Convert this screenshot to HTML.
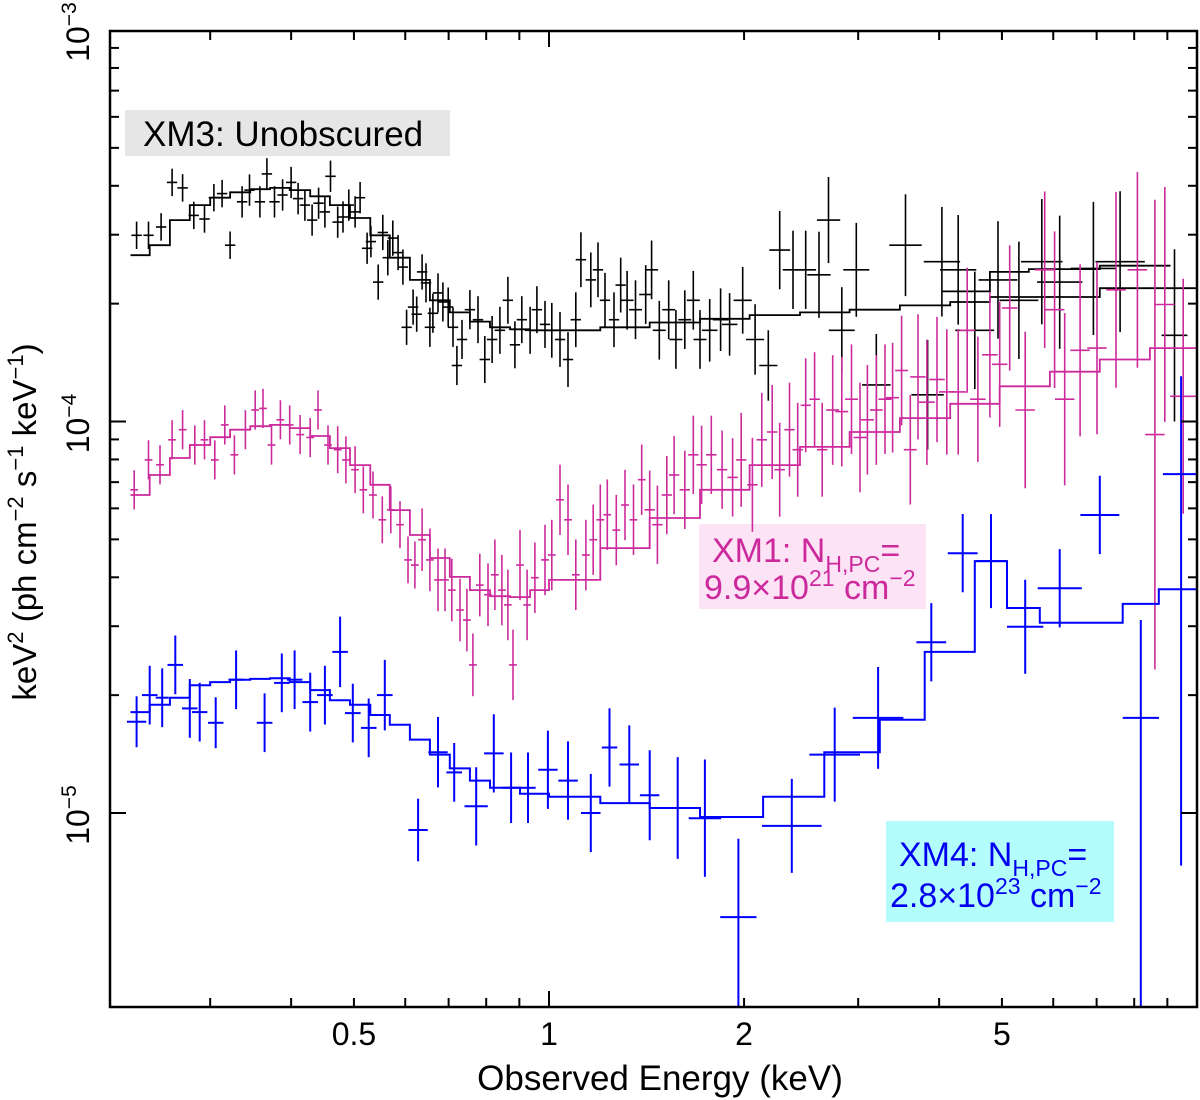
<!DOCTYPE html>
<html><head><meta charset="utf-8"><title>X-ray spectra</title>
<style>
html,body{margin:0;padding:0;background:#fff;}
svg{display:block;font-family:"Liberation Sans",Arial,sans-serif;}
</style></head>
<body>
<svg id="chart" width="1200" height="1100" viewBox="0 0 1200 1100" xmlns="http://www.w3.org/2000/svg">
<defs><clipPath id="plotclip"><rect x="110" y="31" width="1087" height="976"/></clipPath></defs>
<rect x="0" y="0" width="1200" height="1100" fill="#fff"/>
<g id="annot">
  <rect x="125" y="110" width="325" height="46" fill="#e6e6e6"/>
  <text x="143" y="146" font-size="35" fill="#000">XM3: Unobscured</text>
  <rect x="699" y="524" width="227" height="85" fill="#fde3f6"/>
  <text x="712" y="562" font-size="34" fill="#cc2a9c">XM1: N<tspan font-size="23" dy="10">H,PC</tspan><tspan dy="-10">=</tspan></text>
  <text x="704" y="599" font-size="34" fill="#cc2a9c">9.9×10<tspan font-size="23" dy="-13">21</tspan><tspan dy="13"> cm</tspan><tspan font-size="23" dy="-13">−2</tspan></text>
  <rect x="886" y="821" width="228" height="101" fill="#b3fdfd"/>
  <text x="899" y="866" font-size="34" fill="#0000ee">XM4: N<tspan font-size="23" dy="10">H,PC</tspan><tspan dy="-10">=</tspan></text>
  <text x="890" y="907" font-size="34" fill="#0000ee">2.8×10<tspan font-size="23" dy="-13">23</tspan><tspan dy="13"> cm</tspan><tspan font-size="23" dy="-13">−2</tspan></text>
</g>
<g id="series" clip-path="url(#plotclip)"></g>
<g id="axes"></g>
<text x="660" y="1090" font-size="35" text-anchor="middle">Observed Energy (keV)</text>
<text transform="translate(36,522) rotate(-90)" font-size="33" text-anchor="middle">keV<tspan font-size="22" dy="-13">2</tspan><tspan dy="13"> (ph cm</tspan><tspan font-size="22" dy="-13">−2</tspan><tspan dy="13"> s</tspan><tspan font-size="22" dy="-13">−1</tspan><tspan dy="13"> keV</tspan><tspan font-size="22" dy="-13">−1</tspan><tspan dy="13">)</tspan></text>
</svg>
<script>
// values in units of 1e-5 keV^2 (ph cm^-2 s^-1 keV^-1); errors in dex
const xTickLabels = ["0.5","1","2","5"];
const xTickValues = [0.5,1,2,5];
const xMinorTicks = [0.3,0.4,0.5,0.6,0.7,0.8,0.9,2,3,4,5,6,7,8,9];
const xMajorTicks = [1,10];
const yMajorExp = [-3,-4,-5];

const blackModelEdges = [0.226,0.242,0.260,0.279,0.300,0.322,0.346,0.371,0.398,0.428,0.459,0.493,0.530,0.568,0.610,0.655,0.703,0.755,0.811,0.871,0.935,1.00,1.20,1.43,1.71,2.04,2.44,2.91,3.48,4.16,4.79,7.08,10];
const blackModelVals = [26.6,28.2,32.7,35.7,37.3,38.5,39.2,39.5,39.0,37.6,35.7,33.1,29.9,26.2,23.0,20.4,19.0,18.0,17.4,17.2,17.1,17.1,17.4,17.9,18.3,18.7,19.0,19.3,19.8,20.2,20.8,21.9];
const blackModel2Edges = [4.05,4.79,5.5,7.08,9.1];
const blackModel2Vals = [21.5,24.1,24.5,25.0];

const blackE = [0.231,0.241,0.252,0.262,0.272,0.283,0.294,0.304,0.313,0.322,
0.336,0.345,0.358,0.367,0.377,0.388,0.400,0.410,0.420,0.431,
0.441,0.451,0.460,0.472,0.481,0.491,0.502,0.511,0.524,0.531,
0.545,0.554,0.564,0.574,0.585,0.595,0.603,0.617,0.625,0.637,
0.646,0.655,0.662,0.674,0.686,0.699,0.711,0.721,0.734,0.755,
0.777,0.796,0.817,0.840,0.864,0.886,0.908,0.935,0.958,0.986,
1.01,1.04,1.07,1.10,1.12,1.16,1.19,1.22,1.26,1.29,
1.32,1.36,1.41,1.44,1.48,1.53,1.57,1.62,1.67,1.71,
1.77,1.84,1.90,1.99,2.08,2.18,2.27,2.38,2.49,2.61,
2.70,2.83,2.98,3.20,3.55,3.84,4.04,4.28,4.54,4.93,
5.31,5.76,6.14,6.92,7.61,9.23];
const blackV = [29.9,29.9,31.4,40.8,39.5,33.6,32.9,37.3,38.2,28.2,
36.4,39.0,36.4,42.9,36.4,37.9,40.8,37.1,35.7,32.7,
36.1,34.3,42.3,32.3,33.3,35.7,34.3,37.3,27.7,28.8,
22.7,30.4,26.2,29.4,27.0,24.8,17.4,19.6,18.8,24.1,
22.6,17.4,18.9,21.3,20.2,19.6,17.4,13.9,16.2,19.3,
18.2,14.4,16.2,17.1,20.4,15.7,18.2,17.1,19.3,17.7,
17.1,16.2,14.4,18.2,25.9,23.0,24.4,20.4,18.2,22.3,
20.4,19.3,21.1,24.4,17.1,19.3,16.2,18.2,20.4,16.2,
17.1,18.2,17.7,20.4,16.2,13.9,27.4,24.4,24.4,23.7,
32.7,17.1,24.4,12.4,28.2,11.7,25.6,24.4,17.1,23.0,
20.4,25.6,22.7,24.6,25.6,16.6];
const blackXErr = [0.008,0.008,0.008,0.008,0.008,0.008,0.008,0.008,0.008,0.008,
0.008,0.008,0.008,0.008,0.008,0.008,0.008,0.008,0.008,0.008,
0.008,0.008,0.008,0.008,0.008,0.008,0.008,0.008,0.008,0.008,
0.008,0.008,0.008,0.008,0.008,0.008,0.008,0.008,0.008,0.008,
0.008,0.008,0.008,0.008,0.008,0.008,0.008,0.008,0.008,0.008,
0.008,0.008,0.008,0.008,0.008,0.008,0.008,0.008,0.008,0.008,
0.008,0.008,0.008,0.008,0.008,0.008,0.008,0.008,0.008,0.008,
0.01,0.01,0.01,0.01,0.01,0.01,0.01,0.01,0.01,0.01,
0.012,0.012,0.012,0.014,0.014,0.014,0.016,0.016,0.016,0.018,
0.018,0.02,0.02,0.022,0.025,0.025,0.028,0.028,0.03,0.03,
0.03,0.032,0.035,0.035,0.038,0.02];
const blackYErr = [0.035,0.035,0.035,0.035,0.035,0.035,0.035,0.035,0.035,0.035,
0.04,0.04,0.04,0.04,0.04,0.04,0.04,0.04,0.04,0.04,
0.04,0.04,0.04,0.04,0.04,0.04,0.04,0.04,0.04,0.04,
0.045,0.045,0.045,0.045,0.045,0.045,0.045,0.045,0.045,0.045,
0.05,0.05,0.05,0.05,0.05,0.05,0.05,0.05,0.05,0.05,
0.06,0.06,0.06,0.06,0.06,0.06,0.06,0.06,0.06,0.06,
0.07,0.07,0.07,0.07,0.07,0.07,0.07,0.07,0.07,0.07,
0.075,0.075,0.075,0.075,0.075,0.075,0.075,0.075,0.075,0.075,
0.08,0.08,0.08,0.085,0.09,0.09,0.1,0.1,0.1,0.11,
0.11,0.11,0.12,0.13,0.13,0.14,0.14,0.14,0.15,0.15,
0.15,0.16,0.17,0.17,0.18,0.22];

const magModelEdges = [0.226,0.242,0.260,0.279,0.300,0.322,0.346,0.371,0.398,0.428,0.459,0.493,0.530,0.568,0.610,0.655,0.703,0.755,0.811,0.871,0.935,1.00,1.20,1.43,1.71,2.04,2.44,2.91,3.48,4.16,4.96,5.93,7.08,8.46,10];
const magModelVals = [6.49,7.30,8.07,8.71,9.12,9.53,9.73,9.80,9.62,9.18,8.55,7.74,6.89,5.94,5.13,4.48,4.01,3.71,3.58,3.56,3.71,3.94,4.75,5.67,6.69,7.74,8.61,9.40,10.2,11.1,12.3,13.4,14.4,15.4];

const magE = [0.229,0.241,0.251,0.262,0.272,0.284,0.294,0.305,0.316,0.327,
0.340,0.352,0.362,0.373,0.385,0.398,0.413,0.428,0.440,0.456,
0.472,0.486,0.502,0.517,0.535,0.553,0.570,0.589,0.606,0.621,
0.637,0.655,0.674,0.691,0.708,0.729,0.747,0.763,0.782,0.805,
0.825,0.846,0.864,0.880,0.902,0.925,0.951,0.986,1.01,1.04,
1.07,1.10,1.14,1.17,1.20,1.23,1.27,1.31,1.35,1.39,
1.43,1.47,1.52,1.56,1.62,1.67,1.72,1.78,1.85,1.92,
1.98,2.06,2.13,2.21,2.27,2.35,2.42,2.49,2.57,2.64,
2.74,2.83,2.93,3.02,3.10,3.20,3.30,3.39,3.50,3.61,
3.71,3.83,3.97,4.11,4.28,4.42,4.59,4.79,4.96,5.14,
5.43,5.82,6.03,6.25,6.60,7.01,7.50,8.09,8.61,8.92,
9.52];
const magV = [6.69,7.98,7.75,8.98,9.53,8.71,8.98,7.98,9.80,8.22,
9.53,10.7,10.8,8.71,10.1,9.80,9.26,9.10,10.7,8.71,
8.47,7.98,7.53,6.69,6.49,5.61,5.95,5.45,4.43,4.30,
4.99,4.43,3.94,3.94,3.71,3.30,3.11,2.39,3.82,3.61,
4.06,3.71,3.40,2.39,4.30,3.40,3.99,4.43,4.56,6.31,
5.61,4.06,4.56,4.99,5.61,5.78,5.28,6.12,5.61,7.10,
5.95,5.45,6.49,7.30,6.69,8.22,7.75,8.22,7.53,7.20,
7.98,6.89,8.98,9.40,7.53,9.53,8.47,11.0,11.4,8.47,
10.7,10.6,11.4,9.10,10.1,10.7,11.4,11.5,13.5,8.47,
13.0,11.2,12.8,11.9,11.9,17.1,11.4,14.8,14.0,19.5,
10.7,24.4,19.3,11.4,15.2,15.4,21.7,24.4,9.26,19.9,
11.6];
const magXErr = [0.006,0.006,0.006,0.006,0.006,0.006,0.006,0.006,0.006,0.006,
0.006,0.006,0.006,0.006,0.006,0.006,0.006,0.006,0.006,0.006,
0.006,0.006,0.006,0.006,0.006,0.006,0.006,0.006,0.006,0.006,
0.006,0.006,0.006,0.006,0.006,0.006,0.006,0.006,0.006,0.006,
0.006,0.006,0.006,0.006,0.006,0.006,0.006,0.006,0.006,0.006,
0.006,0.006,0.006,0.006,0.006,0.006,0.006,0.006,0.006,0.006,
0.008,0.008,0.008,0.008,0.008,0.008,0.008,0.008,0.008,0.008,
0.008,0.008,0.008,0.008,0.008,0.008,0.008,0.008,0.008,0.008,
0.01,0.01,0.01,0.01,0.01,0.01,0.01,0.01,0.01,0.01,
0.012,0.012,0.012,0.012,0.012,0.012,0.012,0.012,0.012,0.012,
0.015,0.015,0.015,0.015,0.015,0.015,0.015,0.015,0.015,0.015,
0.02];
const magYErr = [0.05,0.05,0.05,0.05,0.05,0.05,0.05,0.05,0.05,0.05,
0.05,0.05,0.05,0.05,0.05,0.05,0.05,0.05,0.05,0.05,
0.06,0.06,0.06,0.06,0.06,0.06,0.06,0.06,0.06,0.06,
0.08,0.08,0.08,0.08,0.08,0.08,0.08,0.08,0.08,0.08,
0.09,0.09,0.09,0.09,0.09,0.09,0.09,0.09,0.09,0.09,
0.09,0.09,0.09,0.09,0.09,0.09,0.09,0.09,0.09,0.09,
0.1,0.1,0.1,0.1,0.1,0.1,0.1,0.1,0.1,0.1,
0.12,0.12,0.12,0.12,0.12,0.12,0.12,0.12,0.12,0.12,
0.14,0.14,0.14,0.14,0.14,0.14,0.14,0.14,0.14,0.14,
0.16,0.16,0.16,0.16,0.16,0.16,0.16,0.16,0.16,0.16,
0.2,0.2,0.2,0.22,0.22,0.22,0.25,0.25,0.6,0.3,
0.3];

const blueModelEdges = [0.226,0.242,0.260,0.279,0.300,0.322,0.346,0.371,0.398,0.428,0.459,0.493,0.530,0.568,0.610,0.655,0.703,0.755,0.811,0.902,1.00,1.20,1.43,1.71,2.14,2.66,3.24,3.80,4.54,5.09,5.72,7.68,8.73,10];
const blueModelVals = [1.81,1.89,1.97,2.12,2.16,2.19,2.20,2.21,2.16,2.06,1.94,1.89,1.78,1.68,1.54,1.41,1.30,1.21,1.16,1.12,1.10,1.06,1.03,0.977,1.10,1.43,1.73,2.58,4.40,3.34,3.06,3.42,3.73];

const blueE = [0.231,0.242,0.253,0.265,0.279,0.289,0.306,0.329,0.364,0.387,
0.405,0.428,0.451,0.476,0.498,0.527,0.558,0.628,0.674,0.714,
0.772,0.822,0.874,0.928,0.996,1.07,1.16,1.24,1.33,1.43,
1.58,1.74,1.96,2.37,2.76,3.22,3.89,4.35,4.81,5.43,
6.14,7.08,8.19,9.45];
const blueV = [1.71,2.00,1.97,2.39,1.85,1.81,1.70,2.19,1.70,2.15,
2.19,1.92,2.00,2.58,1.80,1.65,2.00,0.905,1.43,1.27,
1.04,1.42,1.16,1.16,1.29,1.21,1.00,1.47,1.33,1.11,
1.03,0.97,0.542,0.927,1.41,1.75,2.73,4.61,4.40,2.99,
3.75,5.77,1.75,7.34];
const blueXErr = [0.015,0.012,0.01,0.012,0.012,0.012,0.012,0.012,0.012,0.012,
0.012,0.012,0.012,0.012,0.012,0.012,0.012,0.015,0.015,0.012,
0.018,0.015,0.015,0.012,0.015,0.015,0.015,0.012,0.015,0.015,
0.02,0.025,0.028,0.046,0.039,0.039,0.023,0.023,0.023,0.028,
0.034,0.03,0.028,0.028];
const blueYErrUp = [0.065,0.075,0.075,0.075,0.075,0.075,0.065,0.075,0.075,0.075,
0.075,0.075,0.075,0.09,0.075,0.075,0.09,0.08,0.09,0.075,
0.1,0.1,0.09,0.09,0.1,0.1,0.1,0.1,0.1,0.115,
0.13,0.15,0.2,0.12,0.12,0.13,0.1,0.1,0.12,0.12,
0.1,0.1,0.25,0.25];
const blueYErrDn = [0.065,0.075,0.075,0.075,0.075,0.075,0.065,0.075,0.075,0.075,
0.075,0.075,0.075,0.09,0.075,0.075,0.09,0.08,0.09,0.075,
0.1,0.1,0.09,0.09,0.1,0.1,0.1,0.1,0.1,0.115,
0.13,0.15,0.6,0.12,0.12,0.13,0.1,0.1,0.12,0.12,
0.1,0.1,1.0,1.0];

const NS = "http://www.w3.org/2000/svg";
const X0 = 110, X1 = 1197, Y0 = 31, Y1 = 1007;
function xScale(e){ return 549 + 648*Math.log10(e); }
function yScale(v){ return 813 - 391.5*Math.log10(v); }

const series = document.getElementById('series');
const axes = document.getElementById('axes');

function mk(tag, attrs, parent){
  const el = document.createElementNS(NS, tag);
  for (const k in attrs) el.setAttribute(k, attrs[k]);
  parent.appendChild(el);
  return el;
}

function drawModel(edges, vals, color, name, width){
  let d = "M" + xScale(edges[0]).toFixed(1) + " " + yScale(vals[0]).toFixed(1);
  for (let i = 0; i < vals.length; i++){
    if (i > 0) d += " V" + yScale(vals[i]).toFixed(1);
    d += " H" + xScale(edges[i+1]).toFixed(1);
  }
  const p = mk('path', {d: d, fill: 'none', stroke: color, 'stroke-width': width}, series);
  
  
}

function drawPoints(E, V, XE, YUp, YDn, color, name, width){
  const g = mk('g', {stroke: color, 'stroke-width': width}, series);
  
  
  for (let i = 0; i < E.length; i++){
    const e = E[i], v = V[i];
    const cx = xScale(e), cy = yScale(v);
    const xl = xScale(e/Math.pow(10, XE[i])), xr = xScale(e*Math.pow(10, XE[i]));
    const yt = yScale(v*Math.pow(10, YUp[i])), yb = yScale(v/Math.pow(10, YDn[i]));
    const pg = mk('g', {}, g);
    
    
    mk('line', {x1: xl.toFixed(1), x2: xr.toFixed(1), y1: cy.toFixed(1), y2: cy.toFixed(1)}, pg);
    mk('line', {x1: cx.toFixed(1), x2: cx.toFixed(1), y1: yt.toFixed(1), y2: yb.toFixed(1)}, pg);
  }
}

const BLACK = "#000000", MAG = "#cc2a9c", BLUE = "#0000ff";
drawModel(blackModelEdges, blackModelVals, BLACK, 'xm3-model', 1.8);
drawModel(blackModel2Edges, blackModel2Vals, BLACK, 'xm3-model-2', 1.8);
drawPoints(blackE, blackV, blackXErr, blackYErr, blackYErr, BLACK, 'xm3-data', 1.6);
drawModel(magModelEdges, magModelVals, MAG, 'xm1-model', 1.8);
drawPoints(magE, magV, magXErr, magYErr, magYErr, MAG, 'xm1-data', 1.6);
drawModel(blueModelEdges, blueModelVals, BLUE, 'xm4-model', 2);
drawPoints(blueE, blueV, blueXErr, blueYErrUp, blueYErrDn, BLUE, 'xm4-data', 2);

const frame = mk('rect', {x: X0, y: Y0, width: X1-X0, height: Y1-Y0, fill: 'none', stroke: '#000', 'stroke-width': 2.5}, axes);



xMinorTicks.forEach(t => {
  const x = xScale(t);
  const a = mk('line', {x1: x, x2: x, y1: Y1, y2: Y1-9, stroke: '#000', 'stroke-width': 2}, axes);
  
  
  const b = mk('line', {x1: x, x2: x, y1: Y0, y2: Y0+9, stroke: '#000', 'stroke-width': 2}, axes);
  
  
});
xMajorTicks.forEach(t => {
  const x = xScale(t);
  const a = mk('line', {x1: x, x2: x, y1: Y1, y2: Y1-16, stroke: '#000', 'stroke-width': 2}, axes);
  
  
  const b = mk('line', {x1: x, x2: x, y1: Y0, y2: Y0+16, stroke: '#000', 'stroke-width': 2}, axes);
  
  
});
xTickValues.forEach((t, i) => {
  const tx = mk('text', {x: xScale(t), y: 1045, 'font-size': 32, 'text-anchor': 'middle', fill: '#000'}, axes);
  tx.textContent = xTickLabels[i];
  
  
});

yMajorExp.forEach(ex => {
  for (let m = 1; m <= 9; m++){
    const v = m * Math.pow(10, ex + 5);
    const y = yScale(v);
    if (y < Y0 - 0.5 || y > Y1 + 0.5) continue;
    const len = m === 1 ? 16 : 9;
    const a = mk('line', {x1: X0, x2: X0+len, y1: y, y2: y, stroke: '#000', 'stroke-width': 2}, axes);
    
    
    const b = mk('line', {x1: X1, x2: X1-len, y1: y, y2: y, stroke: '#000', 'stroke-width': 2}, axes);
    
    
  }
  const y = yScale(Math.pow(10, ex + 5));
  const tx = mk('text', {transform: 'translate(89,' + (y + 2) + ') rotate(-90)', 'font-size': 32, 'text-anchor': 'middle', fill: '#000'}, axes);
  
  
  const t1 = mk('tspan', {}, tx); t1.textContent = '10';
  const t2 = mk('tspan', {'font-size': 21, dy: -13}, tx); t2.textContent = '−' + String(-ex);
});
</script>
</body></html>
